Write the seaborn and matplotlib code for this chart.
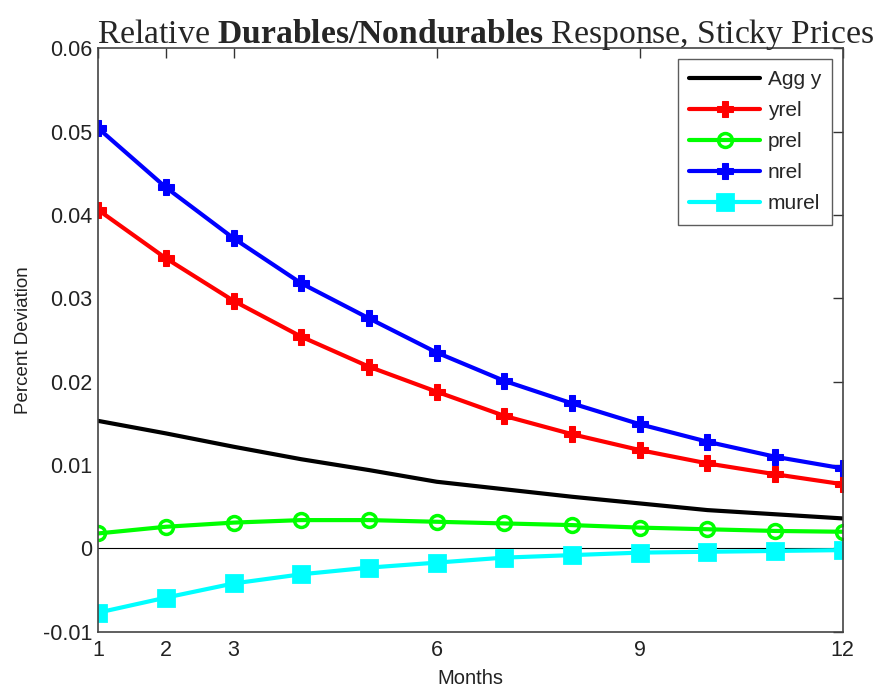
import numpy as np
import pandas as pd
import seaborn as sns
import matplotlib.pyplot as plt
from matplotlib.ticker import FixedLocator, FuncFormatter

months = list(range(1, 13))
agg_y = [0.0153, 0.0138, 0.0122, 0.0107, 0.0094, 0.0080, 0.0071, 0.0062, 0.0054, 0.0046, 0.0041, 0.0036]
yrel = [0.0406, 0.0348, 0.0297, 0.0254, 0.0218, 0.0188, 0.0159, 0.0137, 0.0118, 0.0102, 0.0089, 0.0077]
prel = [0.0018, 0.0026, 0.0031, 0.0034, 0.0034, 0.0032, 0.0030, 0.0028, 0.0025, 0.0023, 0.0021, 0.0020]
nrel = [0.0504, 0.0433, 0.0372, 0.0318, 0.0276, 0.0235, 0.0201, 0.0174, 0.0149, 0.0128, 0.0110, 0.0096]
murel = [-0.0077, -0.0059, -0.0042, -0.0031, -0.0023, -0.0017, -0.0011, -0.0008, -0.0005, -0.0004, -0.0003, -0.0002]

x_ticks = [1, 2, 3, 6, 9, 12]
y_ticks = [-0.01, 0, 0.01, 0.02, 0.03, 0.04, 0.05, 0.06]

sns.set_style("white")
plt.rcParams["font.family"] = ["Liberation Sans", "DejaVu Sans"]
plt.rcParams["axes.unicode_minus"] = False
plt.rcParams["mathtext.fontset"] = "custom"
plt.rcParams["mathtext.rm"] = "Liberation Serif"
plt.rcParams["mathtext.bf"] = "Liberation Serif:bold"

fig = plt.figure(figsize=(8.77, 6.89), dpi=100)
ax = fig.add_axes([0.112, 0.083, 0.849, 0.847])

lw = 3
series = [
    ("Agg y", agg_y, "black", dict()),
    ("yrel", yrel, "#ff0000", dict(marker="P", markersize=12)),
    ("prel", prel, "#00ff00", dict(marker="o", markersize=10, markerfacecolor="none", markeredgewidth=2.5)),
    ("nrel", nrel, "#0000ff", dict(marker="P", markersize=12)),
    ("murel", murel, "#00ffff", dict(marker="s", markersize=12, markeredgewidth=2)),
]

ax.axhline(0, color="black", lw=0.8, zorder=1)
for name, vals, col, mk in series:
    df = pd.DataFrame({"Months": months, "value": vals})
    sns.lineplot(data=df, x="Months", y="value", ax=ax, color=col, lw=lw, label=name,
                 markeredgecolor=col, **mk)

ax.set_xlim(1, 12)
ax.set_ylim(-0.01, 0.06)
ax.xaxis.set_major_locator(FixedLocator(x_ticks))
ax.yaxis.set_major_locator(FixedLocator(y_ticks))
ax.yaxis.set_major_formatter(FuncFormatter(lambda v, p: "0" if abs(v) < 1e-12 else f"{v:g}"))
ax.tick_params(direction="in", length=7, width=1, colors="#333333", labelsize=15.5,
               top=True, right=True, labelcolor="#222222")
ax.tick_params(axis="x", pad=6)
ax.tick_params(axis="y", pad=4)
for s in ax.spines.values():
    s.set_color("#444444")
    s.set_linewidth(1.2)

ax.set_xlabel("Months", fontsize=14.5, color="#222222", labelpad=6)
ax.set_ylabel("Percent Deviation", fontsize=13.5, color="#222222", labelpad=8)
ax.set_title(r"Relative $\mathbf{Durables/Nondurables}$ Response, Sticky Prices",
             fontsize=24.2, family="Liberation Serif", pad=4, x=0.52)

leg = ax.legend(loc="upper right", fontsize=15, frameon=True, fancybox=False,
                borderaxespad=0.5, handlelength=3.4, handletextpad=0.35,
                labelspacing=0.58, borderpad=0.55)
leg.get_frame().set_edgecolor("#333333")
leg.get_frame().set_linewidth(1.0)

plt.savefig("out.png", dpi=100)
